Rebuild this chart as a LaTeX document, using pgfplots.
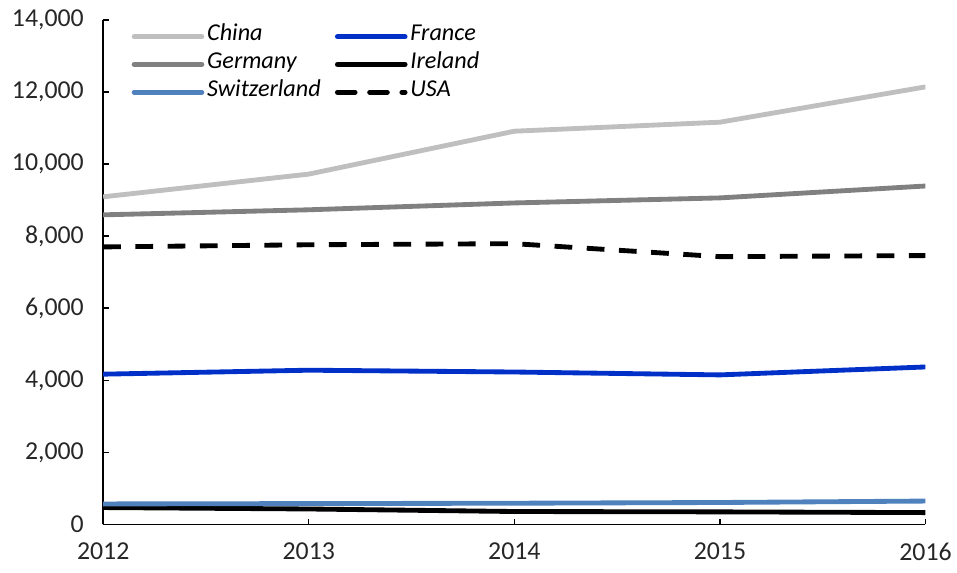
\documentclass[border=0pt]{standalone}
\usepackage{pgfplots}
\pgfplotsset{compat=1.18}
\usepackage{fontspec}
\setmainfont{Carlito}
\definecolor{cchina}{RGB}{191,191,191}
\definecolor{cgermany}{RGB}{128,128,128}
\definecolor{cfrance}{RGB}{0,48,200}
\definecolor{cswiss}{RGB}{79,129,189}
\begin{document}
\begin{tikzpicture}
\begin{axis}[
  name=ax,
  scale only axis,
  width=510pt, height=313pt,
  xmin=2012, xmax=2016, ymin=0, ymax=14000,
  xtick={2012,2013,2014,2015,2016},
  ytick={0,2000,4000,6000,8000,10000,12000,14000},
  scaled ticks=false,
  axis lines*=left,
  axis line style={line width=1.2pt, black},
  tick style={black, line width=0.9pt},
  tick align=inside,
  major tick length=3.7pt,
  xticklabel={\pgfmathprintnumber[fixed,precision=0,1000 sep={}]{\tick}},
  yticklabel={\pgfmathprintnumber[fixed,precision=0,1000 sep={,}]{\tick}},
  /pgf/number format/assume math mode=true,
  tick label style={font=\fontsize{16}{19}\selectfont, color=black!85},
  xticklabel style={yshift=-8pt},
  yticklabel style={xshift=-8.5pt},
  legend style={draw=none, fill=none, at={(0,1)}, anchor=north west,
    xshift=17.5pt, yshift=-3.5pt, inner sep=0pt,
    font=\fontsize{15}{17}\selectfont\itshape, row sep=3.6pt,
    nodes={inner sep=1.8pt, text depth=0.25em, text height=0.75em},
    /tikz/every even column/.append style={column sep=7pt}},
  legend columns=2,
  legend cell align=left,
  legend image code/.code={\draw[#1, line width=3pt, line cap=round] (0pt,0pt) -- (42pt,0pt);},
  every axis plot/.append style={line width=3pt},
]
\addplot[cchina] coordinates {(2012,9090) (2013,9720) (2014,10910) (2015,11160) (2016,12140)};
\addlegendentry{China}
\addplot[cfrance] coordinates {(2012,4170) (2013,4280) (2014,4230) (2015,4150) (2016,4370)};
\addlegendentry{France}
\addplot[cgermany] coordinates {(2012,8590) (2013,8730) (2014,8920) (2015,9060) (2016,9390)};
\addlegendentry{Germany}
\addplot[black] coordinates {(2012,470) (2013,430) (2014,360) (2015,350) (2016,330)};
\addlegendentry{Ireland}
\addplot[cswiss] coordinates {(2012,570) (2013,580) (2014,590) (2015,610) (2016,650)};
\addlegendentry{Switzerland}
\addplot[black, dash pattern=on 11pt off 9pt, line cap=butt] coordinates {(2012,7700) (2013,7760) (2014,7790) (2015,7430) (2016,7460)};
\addlegendentry{USA}
\end{axis}
\path ([xshift=-64pt,yshift=-29.6pt]ax.south west) rectangle ([xshift=17.9pt,yshift=12.3pt]ax.north east);
\end{tikzpicture}
\end{document}
